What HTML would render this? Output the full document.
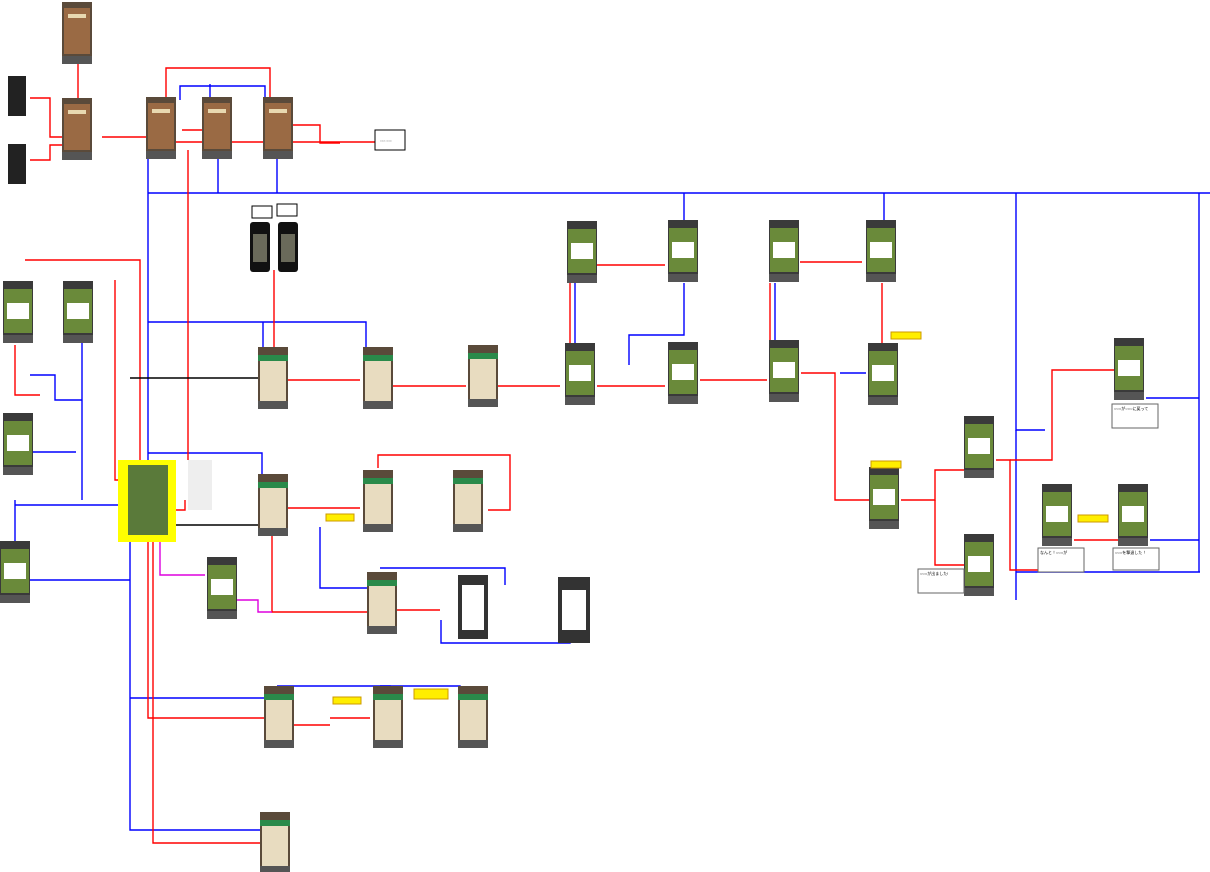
<!DOCTYPE html>
<html><head><meta charset="utf-8"><style>
body{margin:0;background:#fff;}
svg{display:block;font-family:"Liberation Sans","Noto Sans CJK JP",sans-serif;}
</style></head><body>
<svg width="1210" height="872" viewBox="0 0 1210 872" xmlns="http://www.w3.org/2000/svg">
<defs>
<g id="br"><rect width="30" height="62" fill="#5a4a3a"/><rect x="2" y="6" width="26" height="46" fill="#9a6a44"/><rect x="6" y="12" width="18" height="4" fill="#e8d8b0"/><rect x="0" y="54" width="30" height="8" fill="#555"/></g>
<g id="gr"><rect width="30" height="62" fill="#3a3a3a"/><rect x="1" y="8" width="28" height="44" fill="#6a8a3a"/><rect x="4" y="22" width="22" height="16" fill="#fff"/><rect x="0" y="54" width="30" height="8" fill="#555"/></g>
<g id="pa"><rect width="30" height="62" fill="#5a4a3a"/><rect x="0" y="8" width="30" height="6" fill="#2a8a4a"/><rect x="2" y="14" width="26" height="40" fill="#e8dcc0"/><rect x="0" y="54" width="30" height="8" fill="#555"/></g>
</defs>
<g fill="none" stroke-width="1.4">
<g stroke="#0000ff">
<path d="M148,193H1210"/><path d="M148,150V193M218,150V193M277,150V193"/>
<path d="M148,193V470"/><path d="M180,100V86H265V100"/>
<path d="M210,100V84"/>
<path d="M148,322H366V350"/><path d="M263,322V350"/>
<path d="M82,325V500M20,452H76M30,375H55V400H82"/>
<path d="M15,500V580H130"/><path d="M15,505H130"/>
<path d="M130,505V830H262"/><path d="M130,698H266"/>
<path d="M148,453H262V476"/>
<path d="M320,527V588H370"/><path d="M380,568H505V585"/>
<path d="M441,620V643H570V615"/>
<path d="M277,686H390V690"/><path d="M380,686H460V690"/>
<path d="M575,283V350"/><path d="M629,365V335H684V283"/><path d="M684,193V230"/>
<path d="M775,283V345"/><path d="M884,193V230"/>
<path d="M840,373H866"/>
<path d="M1016,193V430H1045"/><path d="M1016,430V600"/><path d="M1016,572H1200"/>
<path d="M1199,193V572"/><path d="M1146,398H1199"/>
<path d="M1150,540H1199"/>
</g>
<g stroke="#ff0000">
<path d="M176,137H102"/><path d="M62,137H50V98H30"/><path d="M62,145H50V160H30"/>
<path d="M78,98V64"/><path d="M166,100V68H270V100"/>
<path d="M182,130H203"/><path d="M277,125H320V143H340"/><path d="M176,142H375"/>
<path d="M188,150V460"/>
<path d="M274,270V350"/>
<path d="M288,380H360"/><path d="M393,386H466"/><path d="M496,386H560"/>
<path d="M597,386H665"/><path d="M570,345V283"/>
<path d="M597,265H665"/><path d="M700,380H767"/>
<path d="M770,345V283"/><path d="M800,262H862"/><path d="M882,345V283"/>
<path d="M801,373H835V500H869"/>
<path d="M901,500H935V470H964"/><path d="M935,500V565H964"/>
<path d="M996,460H1010V570H1042"/><path d="M1010,460H1052V370H1114"/>
<path d="M1074,540H1118"/>
<path d="M25,260H140V470"/><path d="M115,280V480H128"/>
<path d="M15,345V395H40"/>
<path d="M168,510H185V500"/>
<path d="M288,508H360"/><path d="M378,468V455H510V510H488"/>
<path d="M272,535V612H370"/><path d="M397,610H440"/>
<path d="M148,530V718H266"/><path d="M290,725H330"/><path d="M330,718H370"/>
<path d="M153,530V843H262"/>
</g>
<g stroke="#dd00dd"><path d="M160,530V575H205"/><path d="M237,600H258V612H272"/></g>
<g stroke="#000"><path d="M130,378H258"/><path d="M175,525H258"/></g>
</g>
<use href="#br" x="62" y="2"/><use href="#br" x="62" y="98"/>
<rect x="8" y="76" width="18" height="40" fill="#222"/><rect x="8" y="144" width="18" height="40" fill="#222"/>
<use href="#br" x="146" y="97"/><use href="#br" x="202" y="97"/><use href="#br" x="263" y="97"/>
<rect x="375" y="130" width="30" height="20" fill="#fff" stroke="#000"/><text x="380" y="142" font-size="3">○○○  ○○○</text>
<rect x="250" y="222" width="20" height="50" rx="3" fill="#111"/><rect x="278" y="222" width="20" height="50" rx="3" fill="#111"/>
<rect x="253" y="234" width="14" height="28" fill="#6a6a5a"/><rect x="281" y="234" width="14" height="28" fill="#6a6a5a"/>
<rect x="252" y="206" width="20" height="12" fill="#fff" stroke="#000"/><rect x="277" y="204" width="20" height="12" fill="#fff" stroke="#000"/>
<use href="#gr" x="3" y="281"/><use href="#gr" x="63" y="281"/><use href="#gr" x="3" y="413"/><use href="#gr" x="0" y="541"/>
<rect x="118" y="460" width="58" height="82" fill="#ffff00"/>
<rect x="128" y="465" width="40" height="70" fill="#5a7a3a"/><rect x="188" y="460" width="24" height="50" fill="#eee"/>
<use href="#pa" x="258" y="347"/><use href="#pa" x="363" y="347"/><use href="#pa" x="468" y="345"/>
<use href="#gr" x="565" y="343"/><use href="#gr" x="668" y="342"/><use href="#gr" x="769" y="340"/><use href="#gr" x="868" y="343"/>
<use href="#gr" x="567" y="221"/><use href="#gr" x="668" y="220"/><use href="#gr" x="769" y="220"/><use href="#gr" x="866" y="220"/>
<use href="#pa" x="258" y="474"/><use href="#pa" x="363" y="470"/><use href="#pa" x="453" y="470"/>
<use href="#gr" x="207" y="557"/><use href="#pa" x="367" y="572"/>
<rect x="458" y="575" width="30" height="64" fill="#333"/><rect x="462" y="585" width="22" height="45" fill="#fff"/>
<rect x="558" y="577" width="32" height="66" fill="#333"/><rect x="562" y="590" width="24" height="40" fill="#fff"/>
<use href="#pa" x="264" y="686"/><use href="#pa" x="373" y="686"/><use href="#pa" x="458" y="686"/>
<use href="#pa" x="260" y="812"/>
<use href="#gr" x="869" y="467"/><use href="#gr" x="964" y="416"/><use href="#gr" x="964" y="534"/>
<use href="#gr" x="1042" y="484"/><use href="#gr" x="1118" y="484"/><use href="#gr" x="1114" y="338"/>
<g font-size="4" fill="#000">
<rect x="1112" y="404" width="46" height="24" fill="#fff" stroke="#666"/><text x="1114" y="410">○○○が○○○に戻って</text>
<rect x="918" y="569" width="46" height="24" fill="#fff" stroke="#666"/><text x="920" y="575">○○○が出ました!</text>
<rect x="1038" y="548" width="46" height="24" fill="#fff" stroke="#666"/><text x="1040" y="554">なんと！○○○が</text>
<rect x="1113" y="548" width="46" height="22" fill="#fff" stroke="#666"/><text x="1115" y="554">○○○を撃退した！</text>
</g>
<g fill="#ffee00" stroke="#cc9900"><rect x="326" y="514" width="28" height="7"/><rect x="333" y="697" width="28" height="7"/><rect x="414" y="689" width="34" height="10"/><rect x="891" y="332" width="30" height="7"/><rect x="871" y="461" width="30" height="7"/><rect x="1078" y="515" width="30" height="7"/></g>
</svg>
</body></html>
